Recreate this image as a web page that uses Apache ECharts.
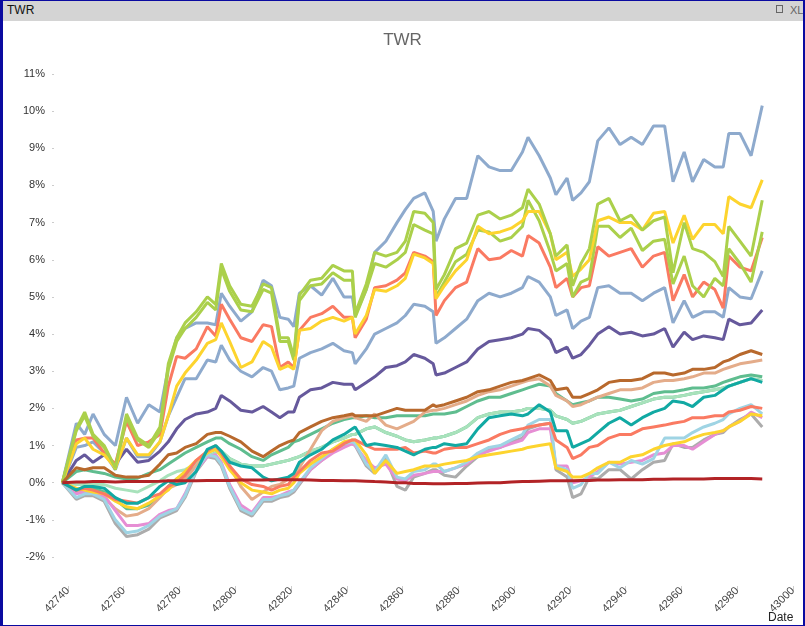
<!DOCTYPE html>
<html>
<head>
<meta charset="utf-8">
<script src="https://cdn.jsdelivr.net/npm/echarts@6/dist/echarts.min.js"></script>
<style>
html,body{margin:0;padding:0;background:#fff;}
#wrap{position:relative;width:805px;height:626px;overflow:hidden;}
#chart{position:absolute;left:0;top:0;width:805px;height:626px;}
#bar{position:absolute;left:0;top:0;width:805px;height:21px;background:#d4d4d4;}
#bar .t{position:absolute;left:7px;top:3px;font:12px "Liberation Sans",Arial,sans-serif;color:#111;}
#bar .xl{position:absolute;left:790px;top:4px;font:11px "Liberation Sans Narrow","Liberation Sans",sans-serif;color:#666;}
#bar .ic{position:absolute;left:776px;top:5px;width:7px;height:8px;border:1px solid #666;box-sizing:border-box;}
#frame{position:absolute;left:0;top:0;width:805px;height:626px;box-sizing:border-box;border-left:3px solid #0a0aa0;border-top:1px solid #0a0aa0;border-right:2px solid #0a0aa0;border-bottom:1px solid #0a0aa0;pointer-events:none;}
</style>
</head>
<body>
<div id="wrap">
  <div id="chart"></div>
  <div id="bar"><span class="t">TWR</span><span class="ic"></span><span class="xl">XL</span></div>
  <div id="frame"></div>
</div>
<script>
const dates = [42738,42743,42746,42749,42753,42757,42761,42765,42769,42773,42776,42779,42782,42786,42790,42793,42795,42798,42802,42806,42810,42813,42816,42819,42821,42823,42827,42831,42835,42839,42842,42843,42847,42850,42854,42858,42861,42864,42868,42871,42872,42875,42879,42883,42887,42891,42895,42899,42903,42905,42909,42913,42915,42919,42921,42924,42927,42930,42934,42938,42942,42946,42950,42954,42957,42961,42964,42968,42972,42975,42977,42981,42985,42989];

const steelTop = [0,1.6,1.3,1.85,1.3,1.0,2.3,1.6,2.1,1.9,
 3.1,3.9,4.15,4.3,4.3,4.25,5.1,4.75,4.35,4.6,
 5.45,5.3,4.45,4.4,4.2,5.1,5.3,5.05,5.5,5.0,
 5.0,4.5,5.2,6.2,6.5,7.0,7.35,7.65,7.8,7.3,
 6.5,7.1,7.65,7.65,8.8,8.5,8.4,8.4,8.9,9.3,
 8.8,8.2,7.75,8.2,7.6,7.8,8.1,9.2,9.55,9.1,
 9.3,9.1,9.6,9.6,8.1,8.9,8.1,8.7,8.5,8.5,
 9.4,9.4,8.8,10.15];
const greenTop = [0,1.45,1.9,1.3,1.0,0.4,1.85,1.2,1.0,1.5,
 3.2,3.9,4.3,4.6,5.0,4.8,5.9,5.3,4.8,4.75,
 5.35,5.25,3.9,3.9,3.4,5.05,5.45,5.5,5.85,5.7,
 5.7,4.55,5.35,6.2,6.1,6.2,6.5,7.3,7.25,7.0,
 5.2,5.6,6.3,6.45,7.2,7.3,7.1,7.2,7.4,7.9,
 7.5,6.7,6.1,6.4,5.3,5.9,6.3,7.5,7.65,7.05,
 7.2,6.8,7.05,7.15,5.65,7.0,6.3,6.2,5.95,5.55,
 6.9,6.5,6.1,7.6];
const greenLow = [0,1.4,1.8,1.25,0.95,0.35,1.75,1.15,0.95,1.4,
 3.05,3.8,4.15,4.45,4.85,4.65,5.75,5.15,4.65,4.6,
 5.2,5.1,3.8,3.8,3.3,4.9,5.3,5.35,5.65,5.45,
 5.45,4.45,5.2,5.9,5.8,6.0,6.2,6.95,6.8,6.7,
 5.0,5.4,5.95,6.15,6.8,6.75,6.5,6.6,6.9,7.6,
 7.05,6.2,5.7,5.9,5.0,5.4,5.5,6.9,6.9,6.6,
 6.85,6.25,6.5,6.55,5.35,6.1,5.3,5.0,5.5,5.3,
 6.3,5.9,5.4,6.75];
const yellowTop = [0,1.05,1.2,0.9,0.75,0.4,1.2,0.75,0.75,1.1,
 1.8,2.6,2.95,3.3,3.75,3.85,4.3,3.8,3.1,3.25,
 3.8,3.65,3.05,3.15,3.05,4.1,4.15,4.35,4.45,4.35,
 4.45,4.0,4.5,5.2,5.15,5.3,5.5,6.15,6.05,5.9,
 4.95,5.3,5.7,6.0,6.9,6.7,6.75,6.85,7.05,7.3,
 7.3,6.7,6.0,6.2,5.55,5.75,6.0,7.05,7.15,7.0,
 7.0,6.8,7.25,7.3,6.45,7.2,6.55,6.95,6.95,6.7,
 7.7,7.5,7.4,8.15];
const salmonTop = [0,1.15,1.2,1.2,0.8,0.5,1.65,1.0,1.1,1.3,
 2.6,3.4,3.35,3.6,4.2,3.95,4.8,4.4,3.9,3.8,
 4.25,4.2,3.1,3.25,3.1,4.1,4.45,4.55,4.75,4.45,
 4.45,3.9,4.4,5.25,5.3,5.45,5.65,6.2,6.1,5.95,
 4.5,4.9,5.25,5.4,6.3,6.0,6.05,6.25,6.1,6.65,
 6.45,5.8,5.25,5.5,5.0,5.25,5.3,6.35,6.1,6.2,
 6.3,5.8,6.1,6.2,4.9,5.6,5.0,5.4,5.2,4.7,
 6.1,5.8,5.7,6.6];
const steelLow = [0,0.95,1.0,1.1,0.8,0.35,1.2,0.7,0.7,1.1,
 1.8,2.3,2.8,2.8,3.3,3.25,3.7,3.3,3.0,2.85,
 3.1,3.0,2.5,2.55,2.6,3.35,3.5,3.6,3.75,3.55,
 3.5,3.2,3.6,4.0,4.15,4.3,4.5,4.8,4.75,4.6,
 3.75,3.9,4.15,4.4,4.9,5.1,5.0,5.1,5.25,5.55,
 5.4,5.0,4.5,4.65,4.15,4.35,4.45,5.25,5.3,5.1,
 5.1,4.9,5.1,5.25,4.3,4.9,4.45,4.6,4.6,4.45,
 5.25,5.0,4.95,5.7];
const purple = [0,0.6,0.75,0.55,0.75,0.5,0.9,0.55,0.6,0.85,
 1.1,1.45,1.7,1.85,1.9,2.0,2.35,2.2,1.95,1.9,
 2.05,1.9,1.75,1.9,1.9,2.3,2.5,2.55,2.7,2.65,
 2.65,2.5,2.7,2.85,3.1,3.15,3.25,3.45,3.35,3.2,
 2.9,2.95,3.1,3.25,3.6,3.8,3.85,3.9,4.0,4.15,
 4.1,3.85,3.5,3.65,3.35,3.45,3.7,4.0,4.2,4.0,
 4.05,3.95,4.0,4.15,3.65,4.05,3.85,3.95,3.9,3.85,
 4.4,4.25,4.3,4.65];
const brown = [0,0.4,0.35,0.4,0.4,0.2,0.15,0.15,0.2,0.5,
 0.75,0.8,0.95,1.05,1.3,1.35,1.35,1.25,1.1,0.85,
 0.7,0.85,1.0,1.1,1.15,1.35,1.5,1.65,1.75,1.8,
 1.85,1.8,1.8,1.8,1.9,2.0,1.95,1.95,1.95,2.1,
 2.05,2.1,2.2,2.3,2.45,2.5,2.6,2.7,2.75,2.8,
 2.9,2.75,2.5,2.55,2.3,2.3,2.4,2.5,2.7,2.75,
 2.75,2.8,2.95,2.95,2.9,2.95,3.05,3.05,3.1,3.25,
 3.3,3.45,3.55,3.45];
const tan = [0,-0.25,-0.25,-0.25,-0.4,-0.7,-0.9,-0.85,-0.7,-0.4,
 -0.15,-0.05,0.1,0.45,0.8,0.9,0.8,0.45,-0.1,-0.45,
 -0.25,-0.1,-0.05,0.1,0.2,0.4,0.9,1.4,1.65,1.75,
 1.8,1.75,1.65,1.85,1.55,1.45,1.55,1.65,1.9,1.95,
 1.95,2.0,2.1,2.2,2.35,2.45,2.5,2.6,2.7,2.75,
 2.8,2.6,2.35,2.2,2.05,2.1,2.2,2.3,2.4,2.5,
 2.5,2.55,2.7,2.75,2.75,2.8,2.85,2.95,2.95,3.05,
 3.1,3.2,3.25,3.3];
const greenMid = [0,0.3,0.35,0.3,0.25,0.15,0.1,0.12,0.25,0.35,
 0.5,0.65,0.8,0.95,1.1,1.2,1.2,1.05,0.9,0.7,
 0.6,0.75,0.85,0.95,1.1,1.15,1.3,1.45,1.6,1.7,
 1.75,1.75,1.8,1.75,1.75,1.8,1.8,1.8,1.8,1.85,
 1.85,1.85,1.9,2.05,2.2,2.3,2.3,2.4,2.5,2.55,
 2.65,2.6,2.4,2.2,2.1,2.15,2.2,2.3,2.3,2.25,
 2.2,2.25,2.4,2.45,2.45,2.5,2.55,2.55,2.6,2.7,
 2.75,2.85,2.9,2.85];
const greenMid2 = [0,-0.2,-0.15,-0.15,-0.25,-0.45,-0.7,-0.7,-0.6,-0.35,
 -0.1,0.1,0.25,0.5,0.7,0.8,0.85,0.65,0.5,0.45,
 0.45,0.5,0.55,0.6,0.65,0.7,0.85,0.95,1.1,1.2,
 1.3,1.3,1.45,1.5,1.35,1.25,1.15,1.1,1.15,1.2,
 1.2,1.25,1.35,1.5,1.75,1.85,1.9,1.9,1.95,2.0,
 2.0,1.95,1.8,1.7,1.6,1.65,1.75,1.85,1.9,1.95,
 2.05,2.15,2.25,2.3,2.3,2.35,2.4,2.45,2.5,2.55,
 2.6,2.7,2.8,2.75];
const mint = [0,-0.05,-0.05,-0.05,-0.05,-0.15,-0.2,-0.25,-0.1,0.05,
 0.2,0.3,0.35,0.5,0.7,0.8,0.85,0.65,0.5,0.45,
 0.45,0.5,0.55,0.6,0.65,0.7,0.85,0.95,1.1,1.2,
 1.3,1.3,1.45,1.5,1.35,1.25,1.15,1.1,1.15,1.2,
 1.2,1.25,1.35,1.5,1.75,1.85,1.9,1.9,1.95,2.0,
 2.0,1.95,1.8,1.7,1.6,1.65,1.75,1.85,1.9,1.95,
 2.05,2.15,2.25,2.3,2.3,2.35,2.4,2.45,2.5,2.55,
 2.6,2.7,2.8,2.75];
const teal = [0,-0.2,-0.1,-0.1,-0.15,-0.4,-0.55,-0.55,-0.4,-0.1,
 0.05,-0.05,0.0,0.3,0.9,1.0,0.85,0.55,0.45,0.4,
 0.15,0.05,0.1,0.15,0.25,0.55,0.75,0.9,1.15,1.3,
 1.45,1.5,1.0,1.05,1.0,0.95,0.85,0.75,0.9,0.95,
 0.95,1.05,1.0,1.05,1.45,1.75,1.8,1.85,1.8,1.85,
 2.1,1.9,1.4,1.4,0.95,1.05,1.15,1.35,1.6,1.75,
 1.55,1.75,1.9,2.0,2.2,2.15,2.05,2.3,2.35,2.5,
 2.6,2.7,2.8,2.7];
const salmonLow = [0,-0.2,-0.15,-0.2,-0.3,-0.45,-0.5,-0.55,-0.4,-0.3,
 -0.1,0.0,0.2,0.6,0.85,1.0,0.8,0.45,0.1,-0.05,
 -0.1,-0.2,-0.1,-0.05,0.15,0.3,0.6,0.8,0.85,1.05,
 1.15,1.15,1.0,0.9,0.9,0.9,0.95,0.8,0.85,0.8,
 0.8,0.9,0.95,0.95,1.05,1.15,1.3,1.4,1.45,1.5,
 1.55,1.6,1.15,0.95,0.65,0.75,0.95,1.0,1.2,1.3,
 1.3,1.45,1.5,1.55,1.6,1.65,1.75,1.75,1.8,1.8,
 1.9,1.95,2.05,2.0];
const yellowLow = [0,-0.15,-0.2,-0.25,-0.3,-0.5,-0.65,-0.7,-0.55,-0.35,
 -0.2,0.1,0.3,0.6,0.8,0.9,0.7,0.35,0.0,-0.2,
 -0.25,-0.3,-0.2,-0.15,0.0,0.25,0.5,0.7,0.9,1.1,
 1.15,1.15,0.75,0.25,0.6,0.25,0.3,0.35,0.45,0.45,
 0.45,0.5,0.55,0.6,0.7,0.75,0.8,0.85,0.9,0.95,
 1.0,1.05,0.4,0.3,0.15,0.15,0.25,0.4,0.55,0.55,
 0.7,0.75,0.9,1.0,1.05,1.1,1.2,1.3,1.35,1.4,
 1.5,1.65,1.85,1.8];
const pink = [0,-0.3,-0.25,-0.3,-0.35,-0.75,-1.15,-1.15,-1.1,-0.85,
 -0.75,-0.7,-0.3,0.35,0.7,0.75,0.55,-0.05,-0.6,-0.8,
 -0.4,-0.4,-0.35,-0.25,-0.2,0.0,0.35,0.6,0.8,0.95,
 1.05,1.0,0.6,0.4,0.5,0.1,0.05,0.2,0.25,0.3,
 0.3,0.3,0.4,0.5,0.75,0.85,0.95,1.05,1.15,1.35,
 1.45,1.45,0.45,0.45,0.0,0.05,0.15,0.3,0.55,0.5,
 0.55,0.6,0.75,0.8,1.0,1.0,0.9,1.1,1.3,1.4,
 1.5,1.65,1.9,1.75];
const cyan = [0,-0.4,-0.3,-0.3,-0.45,-1.0,-1.35,-1.3,-1.15,-0.9,
 -0.8,-0.7,-0.35,0.35,0.75,0.7,0.5,-0.1,-0.7,-0.85,
 -0.45,-0.45,-0.35,-0.3,-0.2,0.0,0.4,0.65,0.9,1.05,
 1.1,1.05,0.5,0.3,0.75,0.15,0.1,0.3,0.35,0.5,
 0.5,0.3,0.4,0.55,0.8,0.95,1.0,1.15,1.3,1.55,
 1.7,1.7,0.45,0.35,-0.15,-0.05,0.25,0.25,0.55,0.4,
 0.6,0.5,0.65,1.2,1.2,1.2,1.35,1.5,1.6,1.7,
 1.85,2.0,2.1,1.85];
const grey = [0,-0.45,-0.35,-0.35,-0.5,-1.1,-1.45,-1.4,-1.25,-0.95,
 -0.85,-0.75,-0.4,0.3,0.7,0.65,0.45,-0.15,-0.75,-0.9,
 -0.5,-0.5,-0.4,-0.35,-0.25,-0.05,0.35,0.6,0.85,1.0,
 1.05,1.0,0.45,0.25,0.65,-0.1,-0.2,0.15,0.25,0.35,
 0.35,0.2,0.15,0.45,0.7,0.9,0.95,1.1,1.2,1.45,
 1.55,1.6,0.35,0.15,-0.4,-0.3,0.15,0.1,0.35,0.35,
 0.1,0.35,0.55,0.6,1.05,0.95,0.95,1.15,1.3,1.35,
 1.5,1.7,1.85,1.5];
const darkRed = [0,0.02,0.02,0.03,0.03,0.02,0.03,0.03,0.03,0.04,
 0.05,0.05,0.05,0.05,0.06,0.06,0.06,0.06,0.07,0.07,
 0.07,0.08,0.08,0.08,0.08,0.08,0.07,0.06,0.06,0.05,
 0.05,0.05,0.04,0.03,0.02,0.0,0.0,-0.02,-0.02,-0.03,
 -0.03,-0.03,-0.02,-0.02,-0.01,0.0,0.0,0.02,0.03,0.03,
 0.04,0.05,0.05,0.05,0.05,0.06,0.06,0.07,0.07,0.08,
 0.08,0.08,0.09,0.09,0.1,0.1,0.1,0.1,0.11,0.11,
 0.11,0.11,0.11,0.1];

const yTicks = [-2,11];
const xRange = [42735,43002];

const seriesDefs = [
  ['steelLow', steelLow, '#8eaacd'],
  ['steelTop', steelTop, '#8eaacd'],
  ['purple', purple, '#66599c'],
  ['salmonTop', salmonTop, '#fa7a62'],
  ['greenLow', greenLow, '#abd04b'],
  ['yellowTop', yellowTop, '#fdd42e'],
  ['greenTop', greenTop, '#abd04b'],
  ['greenMid2', greenMid2, '#5fbd8f'],
  ['mint', mint, '#a8e2bb'],
  ['greenMid', greenMid, '#5fbd8f'],
  ['tan', tan, '#e4ac8a'],
  ['brown', brown, '#b8692d'],
  ['grey', grey, '#acacac'],
  ['pink', pink, '#e68ed4'],
  ['cyan', cyan, '#9fd4e4'],
  ['yellowLow', yellowLow, '#fdd42e'],
  ['salmonLow', salmonLow, '#fa7a62'],
  ['teal', teal, '#11a9a3'],
  ['darkRed', darkRed, '#b22326']
];

const chart = echarts.init(document.getElementById('chart'), null, {renderer:'canvas'});
chart.setOption({
  animation: false,
  backgroundColor: '#fff',
  title: {text:'TWR', left:'center', top:27, textStyle:{fontSize:17, fontWeight:'normal', color:'#666', fontFamily:'Liberation Sans, Arial, sans-serif'}},
  grid: {left:54, right:6.5, top:74, bottom:69, containLabel:false},
  xAxis: {
    type:'value', min:xRange[0], max:xRange[1], minInterval:20, maxInterval:20, offset:29,
    axisLine:{show:false, onZero:false},
    axisTick:{show:true, length:5, lineStyle:{color:'#cccccc'}},
    splitLine:{show:false},
    axisLabel:{rotate:45, fontSize:11, color:'#444', margin:3, fontFamily:'Liberation Sans, Arial, sans-serif',
      showMinLabel:false, showMaxLabel:false, formatter:function(v){return String(v);}}
  },
  yAxis: {
    type:'value', min:yTicks[0], max:yTicks[1], interval:1,
    axisLine:{show:false},
    axisTick:{show:true, length:2, lineStyle:{color:'#cccccc'}},
    splitLine:{show:false},
    axisLabel:{formatter:'{value}%', fontSize:11, color:'#333', margin:9, fontFamily:'Liberation Sans, Arial, sans-serif'}
  },
  graphic: [{type:'text', left:768, top:612, style:{text:'Date', font:'12px "Liberation Sans", Arial, sans-serif', fill:'#222'}}],
  series: seriesDefs.map(function(s){
    return {name:s[0], type:'line', showSymbol:false, symbol:'none', smooth:false,
      lineStyle:{width:3, color:s[2]}, itemStyle:{color:s[2]},
      data: dates.map(function(d,i){return [d, s[1][i]];})};
  })
});
</script>
</body>
</html>
